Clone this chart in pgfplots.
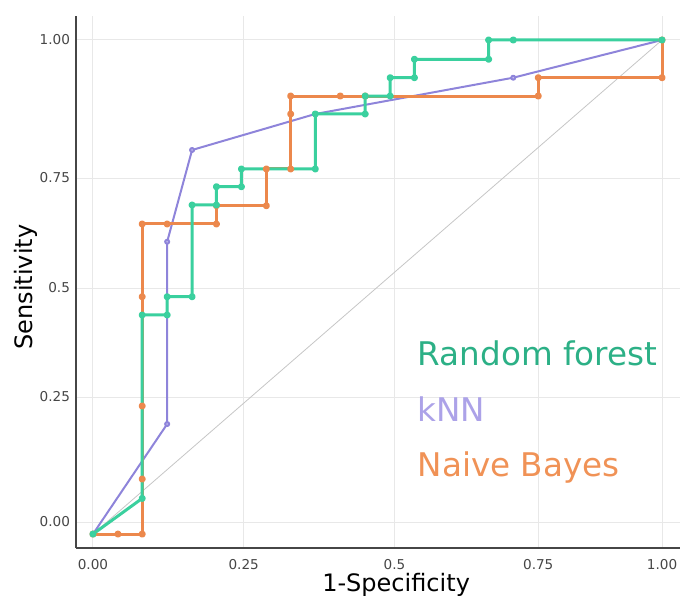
\documentclass[border=0pt]{standalone}
\usepackage{fontspec}
\setmainfont{DejaVu Sans}
\usepackage{pgfplots}
\pgfplotsset{compat=1.18}

\definecolor{rfline}{RGB}{58,208,158}
\definecolor{rftext}{RGB}{44,176,134}
\definecolor{knnline}{RGB}{142,132,218}
\definecolor{knntext}{RGB}{172,162,232}
\definecolor{nbline}{RGB}{236,136,76}
\definecolor{nbtext}{RGB}{240,146,86}
\definecolor{gridc}{RGB}{232,232,232}
\definecolor{spine}{RGB}{70,70,70}

\begin{document}
\begin{tikzpicture}
\begin{axis}[
    name=ax,
    scale only axis,
    width=302pt, height=266pt,
    xmin=-0.0298, xmax=1.0316,
    ymin=-0.0539, ymax=1.0498,
    axis x line*=bottom, axis y line*=left,
    axis line style={spine, line width=0.8pt},
    xtick={0,0.2649,0.5298,0.7825,1},
    xticklabels={0.00,0.25,0.5,0.75,1.00},
    ytick={0,0.2593,0.4855,0.7137,1},
    yticklabels={0.00,0.25,0.5,0.75,1.00},
    major tick length=0pt,
    ticklabel style={font=\fontsize{6.8}{8}\selectfont, text=spine},
    xticklabel style={yshift=-2pt},
    yticklabel style={xshift=0.5pt},
    grid=major,
    major grid style={gridc, line width=0.5pt},
    xlabel={1-Specificity},
    ylabel={Sensitivity},
    label style={font=\fontsize{12}{14}\selectfont, text=black},
    xlabel style={at={(axis description cs:0.53,0)}, anchor=center, yshift=-18.5pt},
    ylabel style={at={(axis description cs:0,0.4906)}, anchor=base, yshift=21.5pt},
    clip=false,
    every axis plot/.append style={line join=round},
]
% chance line
\addplot[gray!45, line width=0.4pt] coordinates {(0,-0.025) (1,1)};

% kNN
\addplot[knnline, line width=1pt, mark=*, mark size=1pt,
  mark options={fill=knntext!70!white, draw=none}] coordinates {
(0,-0.025) (0.1304,0.2033) (0.1304,0.5815) (0.1742,0.7718)
(0.3907,0.8465) (0.7386,0.9218) (1.0,1.0)};

% Naive Bayes
\addplot[nbline, line width=1.5pt, mark=*, mark size=1pt,
  mark options={fill=nbline!70!white, draw=none}] coordinates {
(0,-0.025) (0.0439,-0.025) (0.0865,-0.025) (0.0865,0.0892)
(0.0865,0.2407) (0.0865,0.4674) (0.0865,0.6183) (0.1304,0.6183)
(0.2170,0.6183) (0.2170,0.6562) (0.3047,0.6562) (0.3047,0.7324)
(0.3474,0.7324) (0.3474,0.8465) (0.3474,0.8838) (0.4346,0.8838)
(0.4784,0.8838) (0.7825,0.8838) (0.7825,0.9218) (1.0,0.9218)
(1.0,1.0)};

% Random forest
\addplot[rfline, line width=1.5pt, mark=*, mark size=1pt,
  mark options={fill=rfline!70!white, draw=none}] coordinates {
(0,-0.025) (0.0865,0.049) (0.0865,0.4295) (0.1304,0.4295)
(0.1304,0.4674) (0.1742,0.4674) (0.1742,0.6577) (0.2170,0.6577)
(0.2170,0.6956) (0.2609,0.6956) (0.2609,0.7324) (0.3907,0.7324)
(0.3907,0.8465) (0.4784,0.8465) (0.4784,0.8838) (0.5223,0.8838)
(0.5223,0.9218) (0.5649,0.9218) (0.5649,0.9600) (0.6953,0.9600)
(0.6953,1.0) (0.7386,1.0) (1.0,1.0)};

\node[anchor=base west, inner sep=0pt, text=rftext, font=\fontsize{16.3}{18}\selectfont] at (axis cs:0.570,0.3257) {Random forest};
\node[anchor=base west, inner sep=0pt, text=knntext, font=\fontsize{16.3}{18}\selectfont] at (axis cs:0.570,0.2081) {kNN};
\node[anchor=base west, inner sep=0pt, text=nbtext, font=\fontsize{16.3}{18}\selectfont] at (axis cs:0.570,0.0940) {Naive Bayes};
\end{axis}
\pgfresetboundingbox
\path ([shift={(-38pt,-25.5pt)}]ax.south west) rectangle ([shift={(1.5pt,8pt)}]ax.north east);
\end{tikzpicture}
\end{document}
